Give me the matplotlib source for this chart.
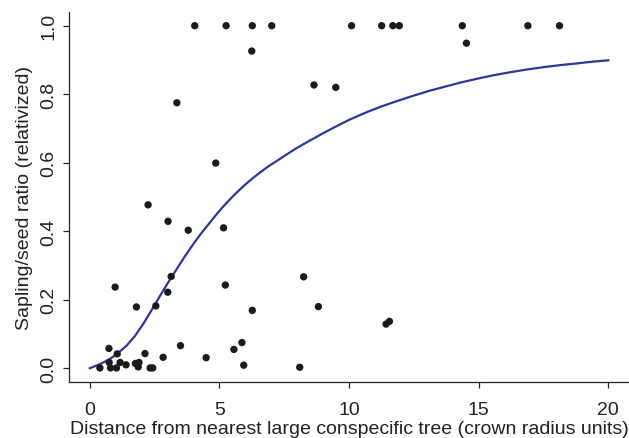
import matplotlib
matplotlib.use("Agg")
import matplotlib.pyplot as plt

# observed points: distance (crown radius units) and sapling/seed ratio
dist = [4.05, 5.26, 6.27, 7.02, 10.10, 11.26, 11.69, 11.94, 14.37, 16.90, 18.12,
        6.25, 8.65, 9.49, 14.53, 3.36,
        4.86, 2.25, 3.02, 3.80, 5.16,
        3.14, 0.98, 5.23, 8.25, 8.82, 11.43, 11.56, 8.10,
        3.01, 1.80, 2.55, 6.27,
        0.74, 1.06, 2.13, 3.50, 2.83, 4.49, 5.56, 5.87, 5.94,
        0.39, 0.75, 0.80, 1.03, 1.17, 1.40, 1.76, 1.90, 1.87, 2.33, 2.43]
ratio = [1.0, 1.0, 1.0, 1.0, 1.0, 1.0, 1.0, 1.0, 1.0, 1.0, 1.0,
         0.926, 0.827, 0.820, 0.949, 0.775,
         0.599, 0.477, 0.429, 0.403, 0.410,
         0.268, 0.237, 0.243, 0.267, 0.180, 0.129, 0.137, 0.003,
         0.222, 0.179, 0.182, 0.169,
         0.058, 0.042, 0.043, 0.066, 0.032, 0.031, 0.055, 0.075, 0.009,
         0.001, 0.017, 0.001, 0.001, 0.017, 0.010, 0.014, 0.017, 0.004, 0.001, 0.001]

# fitted curve
fit_x = [0.0, 0.13, 0.45, 0.77, 1.09, 1.42, 1.74, 2.06, 2.38, 2.70, 3.02, 3.35,
         3.67, 3.99, 4.31, 4.63, 4.95, 5.28, 5.60, 5.92, 6.24, 6.56, 6.88, 7.21, 7.53,
         7.92, 8.45, 9.0, 9.5, 10.0, 10.6, 11.2, 11.85, 12.5, 13.1, 13.7, 14.3, 14.93,
         15.55, 16.2, 16.85, 17.5, 18.15, 18.8, 19.4, 20.0]
fit_y = [0.0, 0.004, 0.014, 0.027, 0.044, 0.066, 0.094, 0.129, 0.169, 0.210, 0.250, 0.289,
         0.327, 0.362, 0.395, 0.425, 0.455, 0.483, 0.508, 0.531, 0.552, 0.571, 0.589, 0.605, 0.621,
         0.640, 0.663, 0.686, 0.706, 0.725, 0.745, 0.763, 0.780, 0.796, 0.810, 0.822, 0.834, 0.845,
         0.855, 0.864, 0.872, 0.879, 0.885, 0.890, 0.895, 0.899]

xticks = [0, 5, 10, 15, 20]
yticks = [0.0, 0.2, 0.4, 0.6, 0.8, 1.0]

plt.rcParams['font.family'] = ['Liberation Sans', 'DejaVu Sans']

fig = plt.figure(figsize=(6.29, 4.39), dpi=100)
ax = fig.add_axes([0.1097, 0.1276, 0.8903, 0.8428])

ax.plot(fit_x, fit_y, color="#2e3795", lw=1.6, zorder=2)
ax.scatter(dist, ratio, s=28, color="#1b1b1b", edgecolors="none", zorder=3)

ax.set_xlim(-0.8, 20.8)
ax.set_ylim(-0.04, 1.04)
ax.set_xticks(xticks)
ax.set_xticklabels([str(t) for t in xticks])
ax.set_yticks(yticks)
ax.set_yticklabels([f"{t:.1f}" for t in yticks], rotation=90, va="center")

ax.spines["top"].set_visible(False)
ax.spines["right"].set_visible(False)
for s in ("left", "bottom"):
    ax.spines[s].set_linewidth(0.9)
    ax.spines[s].set_color("#222222")
ax.tick_params(direction="out", length=4.5, width=0.9, color="#222222",
               labelsize=14, labelcolor="#222222")
ax.tick_params(axis="x", pad=9.5)
ax.tick_params(axis="y", pad=4)

ax.set_xlabel("Distance from nearest large conspecific tree (crown radius units)",
              fontsize=14, color="#222222", labelpad=1)
ax.set_ylabel("Sapling/seed ratio (relativized)", fontsize=14, color="#222222", labelpad=5)

fig.savefig("out.png", dpi=100)
